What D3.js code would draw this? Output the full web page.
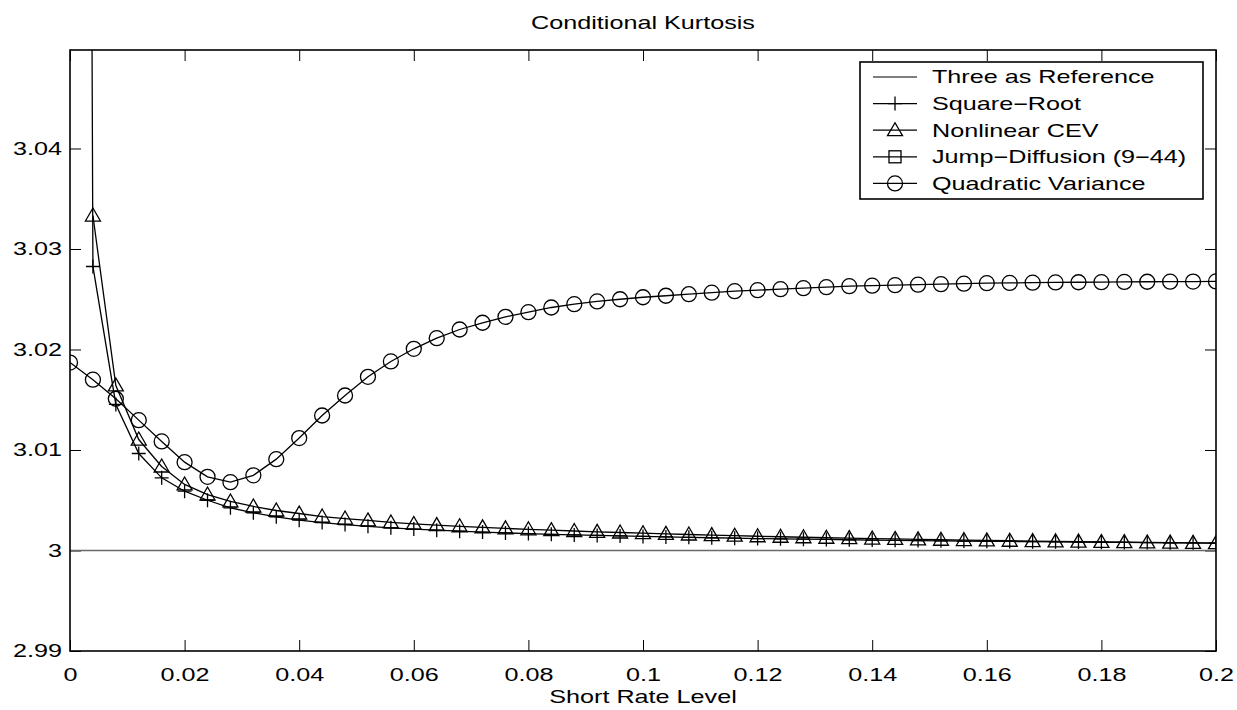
<!DOCTYPE html>
<html>
<head>
<meta charset="utf-8">
<script src="https://cdn.jsdelivr.net/npm/d3@7"></script>
<style>
  html, body { margin: 0; padding: 0; background: #fff; }
  svg text { font-family: "Liberation Sans", Arial, Helvetica, sans-serif; fill: #000; }
</style>
</head>
<body>
<svg id="chart" width="1237" height="710"></svg>
<script>
// ---- data ----
const xValues = [0,0.004,0.008,0.012,0.016,0.020,0.024,0.028,0.032,0.036,0.040,0.044,0.048,0.052,0.056,0.060,0.064,0.068,0.072,0.076,0.080,0.084,0.088,0.092,0.096,0.100,0.104,0.108,0.112,0.116,0.120,0.124,0.128,0.132,0.136,0.140,0.144,0.148,0.152,0.156,0.160,0.164,0.168,0.172,0.176,0.180,0.184,0.188,0.192,0.196,0.200];

// Square-Root: value at r = 0 is far off the chart (kurtosis explodes)
const squareRoot = [3.6,3.02826,3.01453,3.00965,3.00723,3.0059,3.005,3.00425,3.00375,3.00335,3.00302,3.00278,3.00258,3.00241,3.00226,3.00213,3.00202,3.00192,3.00183,3.00175,3.00168,3.00161,3.00155,3.0015,3.00145,3.0014,3.00135,3.00131,3.00127,3.00123,3.00119,3.00116,3.00113,3.0011,3.00107,3.00104,3.00101,3.00099,3.00096,3.00094,3.00092,3.0009,3.00088,3.00086,3.00084,3.00082,3.0008,3.00079,3.00077,3.00076,3.00074];

// Nonlinear CEV: starts at r = 0.004
const cev = [null,3.03333,3.01642,3.01104,3.00836,3.00657,3.00557,3.00488,3.00438,3.00398,3.00368,3.00338,3.00318,3.00299,3.00279,3.00264,3.00252,3.00241,3.0023,3.0022,3.00211,3.00202,3.00194,3.00186,3.00179,3.00172,3.00165,3.00159,3.00153,3.00147,3.00142,3.00137,3.00132,3.00127,3.00123,3.00119,3.00115,3.00111,3.00107,3.00104,3.001,3.00097,3.00094,3.00091,3.00088,3.00085,3.00083,3.0008,3.00078,3.00076,3.00074];

// Jump-Diffusion (9-44): no visible points inside the plotted range
const jumpDiffusion = [];

const quadraticVariance = [3.0187,3.017,3.0151,3.01297,3.01085,3.00879,3.00733,3.0068,3.00748,3.00909,3.01119,3.01343,3.01542,3.01728,3.01881,3.02007,3.02113,3.02199,3.02266,3.02325,3.02371,3.02418,3.02451,3.02478,3.025,3.0252,3.02535,3.0255,3.02565,3.0258,3.0259,3.026,3.0261,3.0262,3.0263,3.02635,3.0264,3.02645,3.0265,3.02655,3.0266,3.02662,3.02665,3.02667,3.02669,3.0267,3.02672,3.02674,3.02675,3.02676,3.02677];

const referenceLevel = 3;
const xTicks = [0,0.02,0.04,0.06,0.08,0.1,0.12,0.14,0.16,0.18,0.2];
const yTicks = [2.99,3,3.01,3.02,3.03,3.04];
const legendLabels = ["Three as Reference","Square\u2212Root","Nonlinear CEV","Jump\u2212Diffusion (9\u221244)","Quadratic Variance"];
const legendMarkers = ["none","plus","triangle","square","circle"];

// ---- layout ----
const svg = d3.select("#chart");
const L = 70, R = 1216, T = 50, B = 651;
const SX = 1.4; // horizontal stretch of the reference's lettering
const x = d3.scaleLinear().domain([0, 0.2]).range([L, R]);
const y = d3.scaleLinear().domain([2.99, 3.0498]).range([B, T]);

function stretch(sel) {
  sel.each(function () {
    const t = d3.select(this);
    const ax = +t.attr("x") || 0;
    t.attr("transform", `translate(${ax},0) scale(${SX},1) translate(${-ax},0)`);
  });
}

svg.append("defs").append("clipPath").attr("id", "clip")
  .append("rect").attr("x", L).attr("y", T).attr("width", R - L).attr("height", B - T);

// title & labels
svg.append("text").attr("x", (L + R) / 2).attr("y", 29).attr("text-anchor", "middle")
  .style("font-size", "18px").text("Conditional Kurtosis").call(stretch);
svg.append("text").attr("x", (L + R) / 2).attr("y", 703).attr("text-anchor", "middle")
  .style("font-size", "18px").text("Short Rate Level").call(stretch);

// axes with inward ticks
const tickLen = 11;
const fmt = d => String(+d.toFixed(3));
const axB = svg.append("g").attr("transform", `translate(0,${B})`)
  .call(d3.axisBottom(x).tickValues(xTicks).tickSize(-tickLen).tickPadding(17).tickFormat(fmt));
const axT = svg.append("g").attr("transform", `translate(0,${T})`)
  .call(d3.axisTop(x).tickValues(xTicks).tickSize(-tickLen).tickFormat(""));
const axLft = svg.append("g").attr("transform", `translate(${L},0)`)
  .call(d3.axisLeft(y).tickValues(yTicks).tickSize(-tickLen).tickPadding(8).tickFormat(fmt));
const axRt = svg.append("g").attr("transform", `translate(${R},0)`)
  .call(d3.axisRight(y).tickValues(yTicks).tickSize(-tickLen).tickFormat(""));
[axB, axT, axLft, axRt].forEach(g => {
  g.select(".domain").remove();
  g.selectAll(".tick line").attr("stroke", "#000").attr("stroke-width", 1);
  g.selectAll(".tick text").style("font-size", "18px").attr("fill", "#000").call(stretch);
});

// plot content
const plot = svg.append("g").attr("clip-path", "url(#clip)");

// reference line
plot.append("line")
  .attr("x1", x(0)).attr("x2", x(0.2))
  .attr("y1", y(referenceLevel)).attr("y2", y(referenceLevel))
  .attr("stroke", "#6a6a6a").attr("stroke-width", 1.6);

function series(vals) {
  return xValues.map((xv, i) => ({ x: xv, y: vals[i] })).filter(d => d.y !== null && d.y !== undefined);
}
const line = d3.line().x(d => x(d.x)).y(d => y(d.y));

const allSeries = [
  { data: series(squareRoot), marker: "plus" },
  { data: series(cev), marker: "triangle" },
  { data: series(jumpDiffusion), marker: "square" },
  { data: series(quadraticVariance), marker: "circle" }
];

function drawMarker(g, type, cx, cy) {
  if (type === "plus") {
    g.append("path").attr("d", `M${cx - 7},${cy}H${cx + 7}M${cx},${cy - 7}V${cy + 7}`)
      .attr("stroke", "#000").attr("stroke-width", 1.3).attr("fill", "none");
  } else if (type === "triangle") {
    g.append("path").attr("d", `M${cx},${cy - 7.5}L${cx + 7.5},${cy + 5.5}L${cx - 7.5},${cy + 5.5}Z`)
      .attr("stroke", "#000").attr("stroke-width", 1.3).attr("fill", "none");
  } else if (type === "square") {
    g.append("rect").attr("x", cx - 6).attr("y", cy - 6).attr("width", 12).attr("height", 12)
      .attr("stroke", "#000").attr("stroke-width", 1.3).attr("fill", "none");
  } else if (type === "circle") {
    g.append("circle").attr("cx", cx).attr("cy", cy).attr("r", 7.5)
      .attr("stroke", "#000").attr("stroke-width", 1.3).attr("fill", "none");
  }
}

allSeries.forEach(s => {
  if (!s.data.length) return;
  plot.append("path").datum(s.data).attr("d", line)
    .attr("fill", "none").attr("stroke", "#000").attr("stroke-width", 1.3);
  const mg = plot.append("g");
  s.data.forEach(d => {
    if (d.y <= y.domain()[1] && d.y >= y.domain()[0]) drawMarker(mg, s.marker, x(d.x), y(d.y));
  });
});

// frame
svg.append("rect").attr("x", L).attr("y", T).attr("width", R - L).attr("height", B - T)
  .attr("fill", "none").attr("stroke", "#000").attr("stroke-width", 1.6);

// legend
const lgX = 860, lgY = 62, lgW = 343, lgH = 137, rowH = 26.6;
const lg = svg.append("g");
lg.append("rect").attr("x", lgX).attr("y", lgY).attr("width", lgW).attr("height", lgH)
  .attr("fill", "#fff").attr("stroke", "#000").attr("stroke-width", 1.6);
legendLabels.forEach((lab, i) => {
  const cy = lgY + 15 + i * rowH;
  lg.append("line").attr("x1", 873).attr("x2", 917).attr("y1", cy).attr("y2", cy)
    .attr("stroke", "#000").attr("stroke-width", 1.2);
  drawMarker(lg, legendMarkers[i], 895, cy);
  lg.append("text").attr("x", 932).attr("y", cy).attr("dy", "0.36em")
    .style("font-size", "18px").text(lab).call(stretch);
});
</script>
</body>
</html>
